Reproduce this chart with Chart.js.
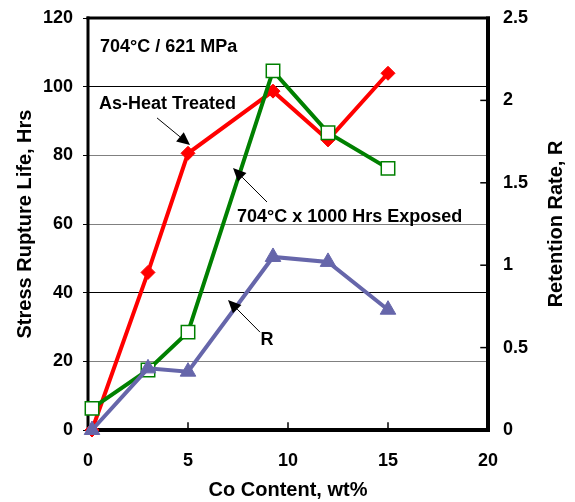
<!DOCTYPE html>
<html><head><meta charset="utf-8">
<script src="https://cdn.jsdelivr.net/npm/chart.js@4/dist/chart.umd.min.js"></script>
<style>html,body{margin:0;padding:0;background:#fff}#wrap{width:575px;height:502px;position:relative}</style>
</head><body><div id="wrap"><canvas id="c"></canvas></div>
<script>
// ---- data ----
const coContent     = [0.2, 3, 5, 9.25, 12, 15];
const asHeatTreated = [0, 45.9, 80.6, 98.7, 84.5, 103.9];
const exposed1000h  = [6.3, 17.5, 28.5, 104.6, 86.6, 76.2];
const retentionR    = [0, 0.374, 0.354, 1.05, 1.02, 0.73];
const xTickValues   = [0, 5, 10, 15, 20];
const leftTickValues  = [0, 20, 40, 60, 80, 100, 120];
const rightTickValues = [0, 0.5, 1, 1.5, 2, 2.5];
const rightAxisTitle = 'Retention Rate, R';

// ---- annotations (data coordinates on x / left y) ----
const notes = [
  {text: '704°C / 621 MPa', x: 0.6, y: 111.6},
  {text: 'As-Heat Treated', x: 0.55, y: 94.9},
  {text: '704°C x 1000 Hrs Exposed', x: 7.45, y: 62.0},
  {text: 'R', x: 8.63, y: 26.2}
];
const arrows = [
  {from: [3.45, 90.9], to: [5.1, 83.0]},
  {from: [8.95, 66.4], to: [7.25, 76.3]},
  {from: [8.6, 28.5], to: [7.0, 37.9]}
];

const FONT = '"Liberation Sans", Arial, sans-serif';
const pts = (ys) => coContent.map((x, i) => ({x, y: ys[i]}));
const noVPad = s => { s.paddingTop = 0; s.paddingBottom = 0; };

const framePlugin = {
  id: 'frame',
  beforeDatasetsDraw(chart) {
    const {ctx, chartArea: a, scales} = chart;
    ctx.save();
    ctx.strokeStyle = '#000';
    ctx.lineCap = 'square';
    ctx.lineWidth = 1.5;
    rightTickValues.forEach(v => {
      const y = scales.y2.getPixelForValue(v);
      ctx.beginPath(); ctx.moveTo(a.right - 7, y); ctx.lineTo(a.right, y); ctx.stroke();
    });
    xTickValues.forEach(v => {
      const x = scales.x.getPixelForValue(v);
      ctx.beginPath(); ctx.moveTo(x, a.bottom - 7); ctx.lineTo(x, a.bottom); ctx.stroke();
    });
    ctx.lineCap = 'butt';
    ctx.lineWidth = 3;
    ctx.beginPath(); ctx.moveTo(a.left - 1.5, a.top); ctx.lineTo(a.right + 2, a.top); ctx.stroke();
    ctx.beginPath(); ctx.moveTo(a.left, a.top - 1.5); ctx.lineTo(a.left, a.bottom + 2); ctx.stroke();
    ctx.lineWidth = 4;
    ctx.beginPath(); ctx.moveTo(a.right, a.top - 1.5); ctx.lineTo(a.right, a.bottom + 2); ctx.stroke();
    ctx.beginPath(); ctx.moveTo(a.left - 1.5, a.bottom); ctx.lineTo(a.right + 2, a.bottom); ctx.stroke();
    ctx.restore();
  },
  afterDatasetsDraw(chart) {
    const {ctx, scales, chartArea: a} = chart;
    const px = v => scales.x.getPixelForValue(v);
    const py = v => scales.y.getPixelForValue(v);
    ctx.save();
    ctx.fillStyle = '#000';
    ctx.font = 'bold 18px ' + FONT;
    ctx.textAlign = 'left';
    ctx.textBaseline = 'middle';
    notes.forEach(n => ctx.fillText(n.text, px(n.x), py(n.y)));
    ctx.strokeStyle = '#000';
    ctx.lineWidth = 1;
    arrows.forEach(ar => {
      const x1 = px(ar.from[0]), y1 = py(ar.from[1]);
      const x2 = px(ar.to[0]), y2 = py(ar.to[1]);
      const ang = Math.atan2(y2 - y1, x2 - x1);
      const L = 13, W = 6;
      const bx = x2 - L * Math.cos(ang), by = y2 - L * Math.sin(ang);
      ctx.beginPath(); ctx.moveTo(x1, y1); ctx.lineTo(bx, by); ctx.stroke();
      ctx.beginPath();
      ctx.moveTo(x2, y2);
      ctx.lineTo(bx + W * Math.sin(ang), by - W * Math.cos(ang));
      ctx.lineTo(bx - W * Math.sin(ang), by + W * Math.cos(ang));
      ctx.closePath(); ctx.fill();
    });
    ctx.font = 'bold 20px ' + FONT;
    ctx.textAlign = 'center';
    ctx.textBaseline = 'middle';
    ctx.translate(chart.width - 19, (a.top + a.bottom) / 2);
    ctx.rotate(-Math.PI / 2);
    ctx.fillText(rightAxisTitle, 0, 0);
    ctx.restore();
  }
};

new Chart(document.getElementById('c'), {
  type: 'line',
  data: {
    datasets: [
      {label: 'As-Heat Treated', data: pts(asHeatTreated), yAxisID: 'y', order: 3,
       borderColor: '#ff0000', backgroundColor: '#ff0000', borderWidth: 4,
       pointStyle: 'rectRot', pointRadius: 7, pointBorderWidth: 1, pointBackgroundColor: '#ff0000', pointBorderColor: '#ff0000'},
      {label: '704°C x 1000 Hrs Exposed', data: pts(exposed1000h), yAxisID: 'y', order: 2,
       borderColor: '#008000', backgroundColor: '#ffffff', borderWidth: 4,
       pointStyle: 'rect', pointRadius: 9.5, pointBorderWidth: 1.5, pointBackgroundColor: '#ffffff', pointBorderColor: '#008000'},
      {label: 'R', data: pts(retentionR), yAxisID: 'y2', order: 1,
       borderColor: '#6666aa', backgroundColor: '#6666aa', borderWidth: 4,
       pointStyle: 'triangle', pointRadius: 9, pointBorderWidth: 1, pointBackgroundColor: '#6666aa', pointBorderColor: '#6666aa'}
    ]
  },
  options: {
    responsive: true, maintainAspectRatio: false, animation: false,
    layout: {padding: {top: 18, left: 0, right: 0, bottom: 0}},
    plugins: {legend: {display: false}, tooltip: {enabled: false}},
    elements: {line: {tension: 0}},
    datasets: {line: {clip: false}},
    scales: {
      x: {
        type: 'linear', min: 0, max: 20, position: 'bottom',
        afterBuildTicks: s => { s.ticks = xTickValues.map(v => ({value: v})); },
        afterFit: s => { s.height = 72; s.paddingLeft = 0; s.paddingRight = 0; },
        ticks: {color: '#000', font: {family: FONT, size: 18, weight: 'bold'}, padding: 20, maxRotation: 0},
        grid: {display: false, drawTicks: false},
        border: {display: false},
        title: {display: true, text: 'Co Content, wt%', color: '#000',
                font: {family: FONT, size: 20, weight: 'bold'}, padding: {top: 0, bottom: 0}}
      },
      y: {
        type: 'linear', min: 0, max: 120, position: 'left',
        afterBuildTicks: s => { s.ticks = leftTickValues.map(v => ({value: v})); },
        afterFit: s => { s.width = 88; noVPad(s); },
        ticks: {color: '#000', font: {family: FONT, size: 18, weight: 'bold'}, padding: 10},
        grid: {
          color: c => (c.tick && (c.tick.value === 40 || c.tick.value === 100)) ? '#000' : '#808080',
          lineWidth: 1, tickLength: 5, tickColor: '#000', drawTicks: true
        },
        border: {display: false},
        title: {display: true, text: 'Stress Rupture Life, Hrs', color: '#000',
                font: {family: FONT, size: 20, weight: 'bold'}, padding: {top: 13, bottom: 0}}
      },
      y2: {
        type: 'linear', min: 0, max: 2.5, position: 'right',
        afterBuildTicks: s => { s.ticks = rightTickValues.map(v => ({value: v})); },
        afterFit: s => { s.width = 87; noVPad(s); },
        ticks: {color: '#000', font: {family: FONT, size: 18, weight: 'bold'}, padding: 15,
                callback: v => String(v)},
        grid: {display: false, drawTicks: false},
        border: {display: false},
        title: {display: false}
      }
    }
  },
  plugins: [framePlugin]
});
</script>
</body></html>
